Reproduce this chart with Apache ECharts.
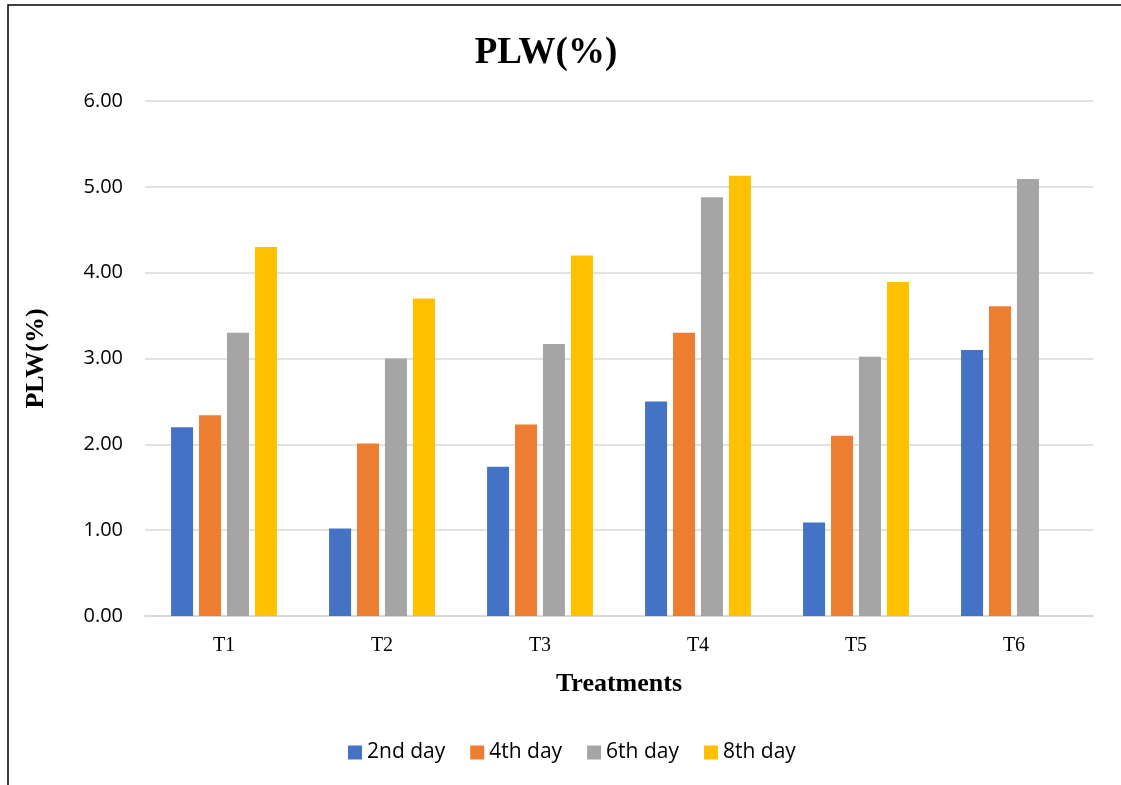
<!DOCTYPE html>
<html>
<head>
<meta charset="utf-8">
<script src="https://cdn.jsdelivr.net/npm/echarts@6/dist/echarts.min.js"></script>
<style>
  html, body { margin: 0; padding: 0; background: #ffffff; }
  #chart { width: 1121px; height: 785px; }
</style>
</head>
<body>
<div id="chart"></div>
<script>
// Physiological loss in weight by treatment and storage day
const treatments = ['T1', 'T2', 'T3', 'T4', 'T5', 'T6'];
const day2 = [2.20, 1.02, 1.74, 2.50, 1.09, 3.10];
const day4 = [2.34, 2.01, 2.23, 3.30, 2.10, 3.61];
const day6 = [3.30, 3.00, 3.17, 4.88, 3.02, 5.09];
const day8 = [4.30, 3.70, 4.20, 5.13, 3.89, null];
const seriesNames = ['2nd day', '4th day', '6th day', '8th day'];
const seriesColors = ['#4472C4', '#ED7D31', '#A5A5A5', '#FFC000'];

const serif = '"Liberation Serif", "Times New Roman", serif';
const sans = '"Open Sans", "Liberation Sans", sans-serif';

const chart = echarts.init(document.getElementById('chart'), null, { renderer: 'canvas' });

const values = [day2, day4, day6, day8];
const series = values.map((vals, i) => ({
  name: seriesNames[i],
  type: 'bar',
  data: vals,
  barGap: '27%',
  barCategoryGap: '33%',
  itemStyle: { color: seriesColors[i] }
}));

chart.setOption({
  animation: false,
  backgroundColor: '#ffffff',
  graphic: [{
    type: 'rect',
    shape: { x: 8, y: 5, width: 1300, height: 1000 },
    style: { fill: 'none', stroke: '#000000', lineWidth: 1.5 },
    silent: true
  }],
  title: {
    text: 'PLW(%)',
    left: 541,
    top: 30,
    textAlign: 'center',
    textStyle: { fontFamily: serif, fontWeight: 'bold', fontSize: 37, color: '#000000' }
  },
  legend: {
    top: 737,
    left: 343,
    itemWidth: 14,
    itemHeight: 14,
    itemGap: 25,
    icon: 'rect',
    textStyle: { fontFamily: sans, fontSize: 21, color: '#000000' },
    data: seriesNames
  },
  grid: { left: 145, right: 28, top: 101, bottom: 169, containLabel: false },
  xAxis: {
    type: 'category',
    data: treatments,
    name: 'Treatments',
    nameLocation: 'middle',
    nameGap: 55,
    nameTextStyle: { fontFamily: serif, fontWeight: 'bold', fontSize: 26, color: '#000000' },
    axisLine: { lineStyle: { color: '#d9d9d9', width: 2 } },
    axisTick: { show: false },
    axisLabel: { fontFamily: serif, fontSize: 20, color: '#000000', margin: 20 }
  },
  yAxis: {
    type: 'value',
    min: 0,
    max: 6,
    interval: 1,
    name: 'PLW(%)',
    nameLocation: 'middle',
    nameGap: 96,
    nameTextStyle: { fontFamily: serif, fontWeight: 'bold', fontSize: 26, color: '#000000' },
    axisLine: { show: false },
    axisTick: { show: false },
    axisLabel: {
      fontFamily: sans, fontSize: 20, color: '#000000', margin: 22,
      formatter: v => v.toFixed(2)
    },
    splitLine: { lineStyle: { color: '#d9d9d9', width: 1.5 } }
  },
  series: series
});
</script>
</body>
</html>
